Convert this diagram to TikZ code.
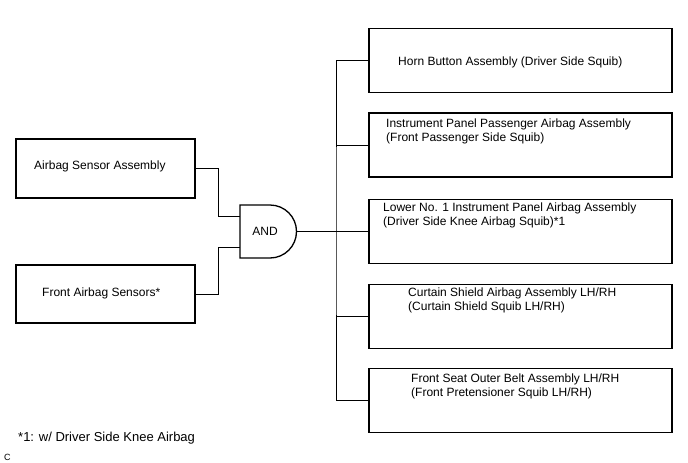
\documentclass[tikz,border=0pt]{standalone}
\usepackage{fontspec}
\setmainfont{Liberation Sans}
\begin{document}
\begin{tikzpicture}[x=1pt, y=-1pt,
  srcbox/.style={draw, line width=1.6pt, minimum width=179pt, minimum height=59pt, inner sep=0pt},
  sqbox/.style={draw, line width=1.6pt, minimum width=303pt, minimum height=64pt, inner sep=0pt},
  txt/.style={anchor=west, align=left, inner sep=0pt, font=\fontsize{12}{14}\selectfont},
  wire/.style={line width=0.9pt}]
\useasboundingbox (0,0) rectangle (688,463);
% inputs
\node [srcbox] (sensA) at (105.5,168.5) {};
\node [srcbox, minimum height=58pt] (sensB) at (105.5,294) {};
\node [txt] (sensAtxt) at (34,166) {Airbag Sensor Assembly};
\node [txt] (sensBtxt) at (42,293) {Front Airbag Sensors*};
% gate
\coordinate (in1) at (240,216);
\coordinate (in2) at (240,247);
\coordinate (gout) at (297,231.5);
\coordinate (bus) at (336,231.5);
\draw [line width=1.3pt] (240,205) -- (270,205) arc [start angle=90, end angle=-90, radius=26.5pt] -- (240,258) -- cycle;
\node [txt, anchor=center] (gate) at (265,231) {AND};
\draw [wire] (sensA.east) -- ++(23,0) |- (in1);
\draw [wire] (sensB.east) -- ++(23,0) |- (in2);
\draw [wire] (gout) -- (bus);
% squibs
\node [sqbox] (horn) at (520.5,60.5) {};
\node [sqbox] (pass) at (520.5,145) {};
\node [sqbox] (knee) at (520.5,231.5) {};
\node [sqbox] (curt) at (520.5,316.5) {};
\node [sqbox] (belt) at (520.5,400.5) {};
\node [txt] (horntxt) at (398,62) {Horn Button Assembly (Driver Side Squib)};
\node [txt] (passtxt) at (386,131) {Instrument Panel Passenger Airbag Assembly\\(Front Passenger Side Squib)};
\node [txt] (kneetxt) at (383,215) {Lower No. 1 Instrument Panel Airbag Assembly\\(Driver Side Knee Airbag Squib)*1};
\node [txt] (curttxt) at (408,300) {Curtain Shield Airbag Assembly LH/RH\\(Curtain Shield Squib LH/RH)};
\node [txt] (belttxt) at (411,386) {Front Seat Outer Belt Assembly LH/RH\\(Front Pretensioner Squib LH/RH)};
\draw [wire] (horn.west) -| (bus) |- (belt.west);
\foreach \b in {pass, knee, curt}
  \draw [wire] (bus |- \b.west) -- (\b.west);
% notes
\node [txt, font=\fontsize{13}{15}\selectfont] (note) at (18,438) {*1: w/ Driver Side Knee Airbag};
\node [txt, font=\fontsize{9}{10}\selectfont] (code) at (4,457) {C};
\end{tikzpicture}
\end{document}
